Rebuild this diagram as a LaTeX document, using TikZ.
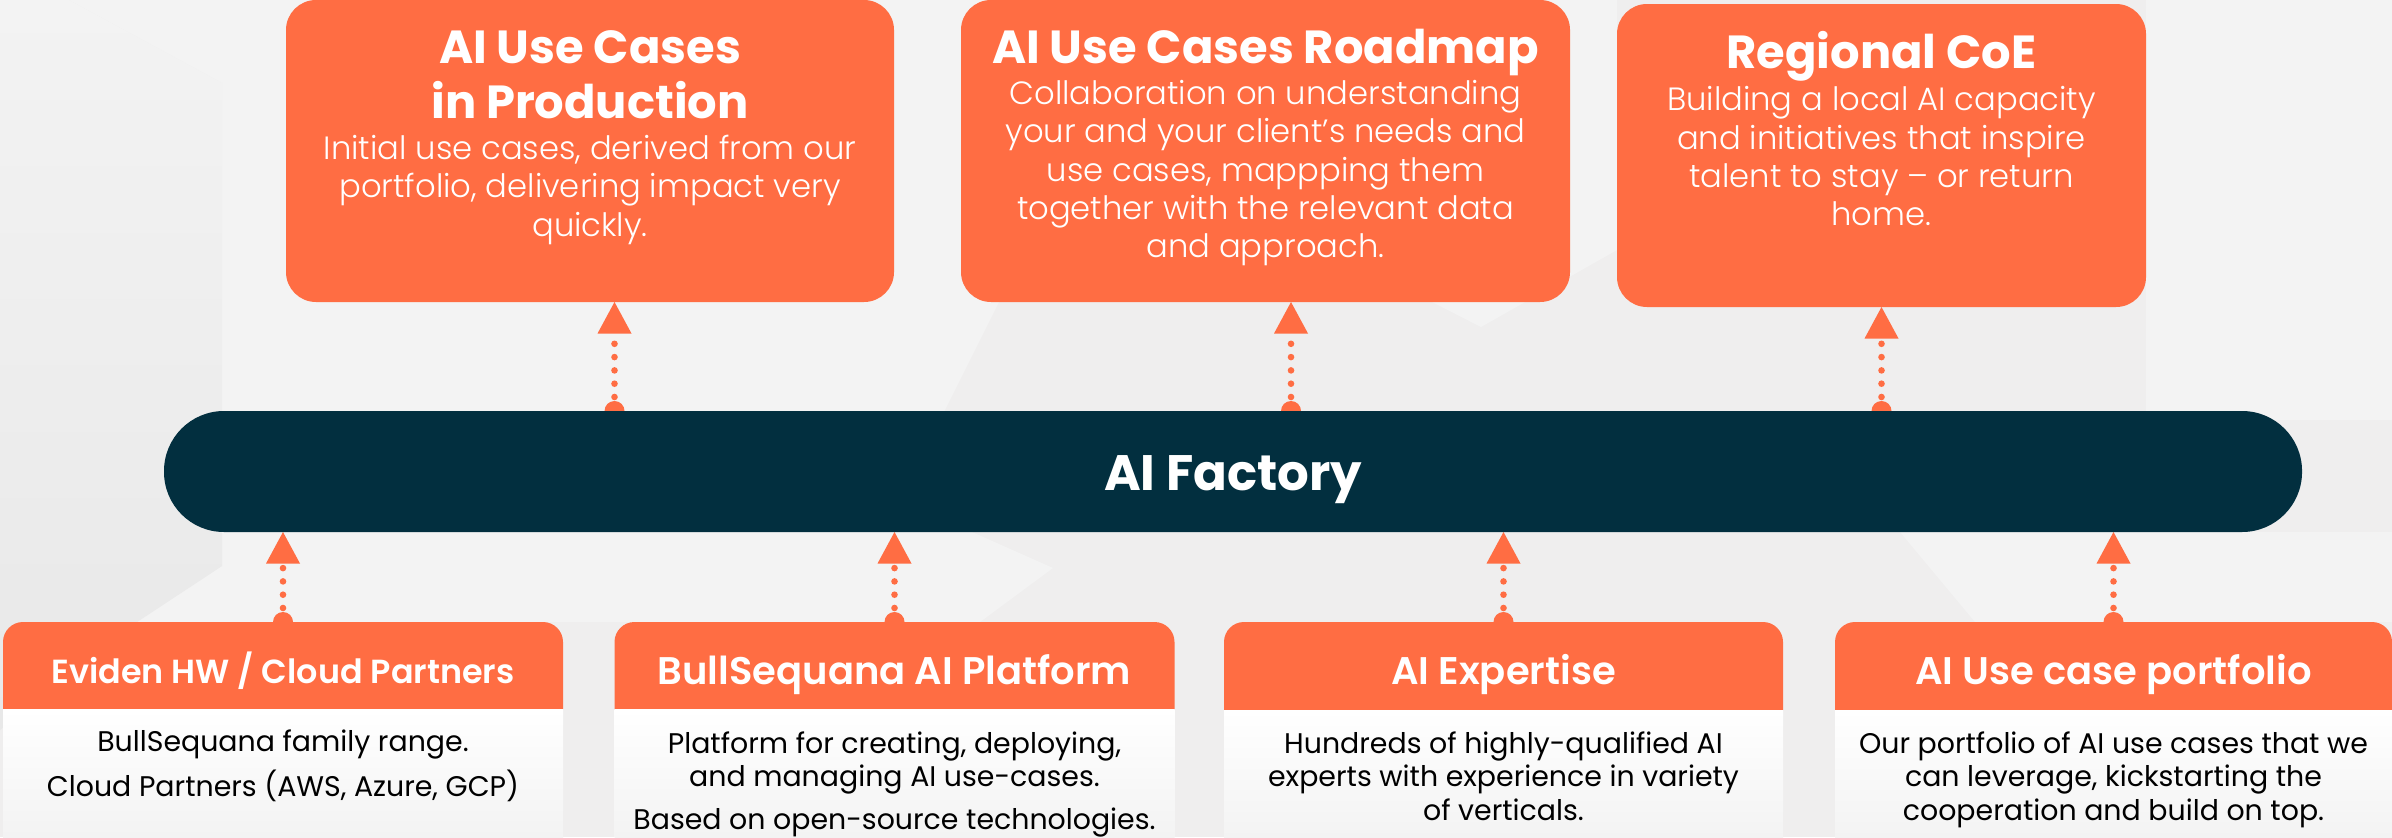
\documentclass[tikz,border=0pt]{standalone}
\usepackage{fontspec}
\setmainfont{Poppins}
\newfontfamily\semi{Poppins SemiBold}
\newfontfamily\bld{Poppins Bold}
\newfontfamily\lite{Poppins Light}
\usetikzlibrary{calc}
\definecolor{org}{HTML}{FF6D43}
\definecolor{navy}{HTML}{022F3F}
\definecolor{bgbase}{HTML}{EFEEEE}
\definecolor{bglite}{HTML}{F3F3F3}
\definecolor{bgdark}{HTML}{E8E8E8}
\definecolor{bodyend}{HTML}{F3F3F3}
\newcommand{\fs}[2]{\fontsize{#1bp}{#2bp}\selectfont}
\pgfdeclarelayer{bgl}
\pgfdeclarelayer{mid}
\pgfsetlayers{bgl,mid,main}
\tikzset{
  x=1bp,y=-1bp,
  shapebox/.style={inner sep=0pt,outer sep=0pt,anchor=north west},
  topbox/.style={shapebox,fill=org,rounded corners=30bp},
  headbox/.style={shapebox},
  txt/.style={anchor=south,inner sep=0pt,text depth=0pt,align=center},
  bighd/.style={txt,text=white,font=\bld\fs{46.4}{55}},
  smhd/.style={txt,text=white,font=\semi\fs{38.5}{44}},
  bodyw/.style={txt,text=white,font=\lite\fs{32.2}{38.4}},
  bodyk/.style={txt,text=black,font=\fs{28.4}{33.5}},
  dots/.style={draw=org,line width=6.6bp,line cap=round,dash pattern=on 0bp off 13.3bp},
  tri/.style={fill=org},
}
% #1 start coordinate (blob), #2 tip coordinate
\newcommand{\conn}[2]{%
  \begin{pgfonlayer}{mid}
  \fill[org] (#1) circle[radius=10bp];
  \draw[dots] ($(#1)+(0,-14)$) -- ($(#2)+(0,29)$);
  \fill[tri] (#2) -- ($(#2)+(17,31.5)$) -- ($(#2)+(-17,31.5)$) -- cycle;
  \end{pgfonlayer}}
% #1 name, #2 x, #3 width, #4 header height
\newcommand{\lowbox}[4]{%
  \node[headbox,minimum width=#3bp,minimum height=#4bp] (#1) at (#2,622) {};
  \fill[org] (#1.south west) [rounded corners=20bp] -- (#1.north west) -- (#1.north east) [sharp corners] -- (#1.south east) -- cycle;
  \shade[top color=white,bottom color=bodyend] (#1.south west) rectangle ($(#1.south east)+(0,128)$);
}
\begin{document}
\begin{tikzpicture}
\useasboundingbox (0,0) rectangle (2392,837);
\begin{pgfonlayer}{bgl}
\fill[bgbase] (0,0) rectangle (2392,837);
% lighter facets
\fill[bglite] (69,0) -- (222,83) -- (222,566) -- (137,622) -- (980,622) -- (1053,568) -- (900,500) -- (1000,300) -- (1000,0) -- cycle;
\fill[bglite] (1428,300) -- (1481,327) -- (1617,250) -- (1617,0) -- (1400,0) -- cycle;
\fill[bglite] (2146,0) -- (2392,0) -- (2392,420) -- (2146,420) -- cycle;
\fill[bglite] (1900,532) -- (1975,622) -- (2392,622) -- (2392,532) -- cycle;
% left column
\shade[top color=bglite,bottom color=bgdark] (0,0) -- (69,0) -- (222,83) -- (222,566) -- (137,622) -- (0,730) -- cycle;
\end{pgfonlayer}

% top boxes
\node[topbox,minimum width=608bp,minimum height=302bp] (uc) at (286,0) {};
\node[topbox,minimum width=609bp,minimum height=302bp] (rm) at (961,0) {};
\node[topbox,minimum width=529bp,minimum height=303bp] (coe) at (1617,4) {};
\node[bighd] (uct) at (590,118.5) {AI Use Cases\\in Production};
\node[bodyw] (ucb) at (590,236.5) {Initial use cases, derived from our\\portfolio, delivering impact very\\quickly.};
\node[bighd] (rmt) at (1265.5,63.5) {AI Use Cases Roadmap};
\node[bodyw] (rmb) at (1265.5,258) {Collaboration on understanding\\your and your client’s needs and\\use cases, mappping them\\together with the relevant data\\and approach.};
\node[bighd] (coet) at (1881.5,68.5) {Regional CoE};
\node[bodyw] (coeb) at (1881.5,226) {Building a local AI capacity\\and initiatives that inspire\\talent to stay – or return\\home.};

% factory
\node[shapebox,fill=navy,rounded corners=60bp,minimum width=2138bp,minimum height=121bp] (fac) at (164,411) {};
\node[bighd,font=\bld\fs{49.8}{55}] (fact) at (1233,491) {AI Factory};

% bottom boxes
\lowbox{a}{3}{560}{87}
\lowbox{b}{614.5}{560}{87}
\lowbox{c}{1224}{559}{88}
\lowbox{d}{1835}{557}{88}
\node[smhd,font=\semi\fs{33.4}{38}] (at) at (a.center |- 0,683.5) {Eviden HW / Cloud Partners};
\node[smhd] (bt) at (b.center |- 0,685) {BullSequana AI Platform};
\node[smhd] (ct) at (c.center |- 0,685) {AI Expertise};
\node[smhd] (dt) at (d.center |- 0,685) {AI Use case portfolio};
\node[bodyk] (ab) at (a.center |- 0,796.5) {BullSequana family range.\\[9.5bp]Cloud Partners (AWS, Azure, GCP)};
\node[bodyk] (bb) at (b.center |- 0,830) {Platform for creating, deploying,\\and managing AI use-cases.\\[9.5bp]Based on open-source technologies.};
\node[bodyk] (cb) at (c.center |- 0,820.5) {Hundreds of highly-qualified AI\\experts with experience in variety\\of verticals.};
\node[bodyk] (db) at (d.center |- 0,820.5) {Our portfolio of AI use cases that we\\can leverage, kickstarting the\\cooperation and build on top.};

% connectors
\coordinate (f1) at (fac.north -| 614.5,0);
\coordinate (f2) at (fac.north -| 1291,0);
\coordinate (f3) at (fac.north -| coe.south);
\coordinate (u1) at (uc.south -| 614.5,0);
\coordinate (u2) at (rm.south -| 1291,0);
\conn{f1}{u1}
\conn{f2}{u2}
\conn{f3}{coe.south}
\conn{a.north}{fac.south -| a.north}
\conn{b.north}{fac.south -| b.north}
\conn{c.north}{fac.south -| c.north}
\conn{d.north}{fac.south -| d.north}
\end{tikzpicture}
\end{document}
